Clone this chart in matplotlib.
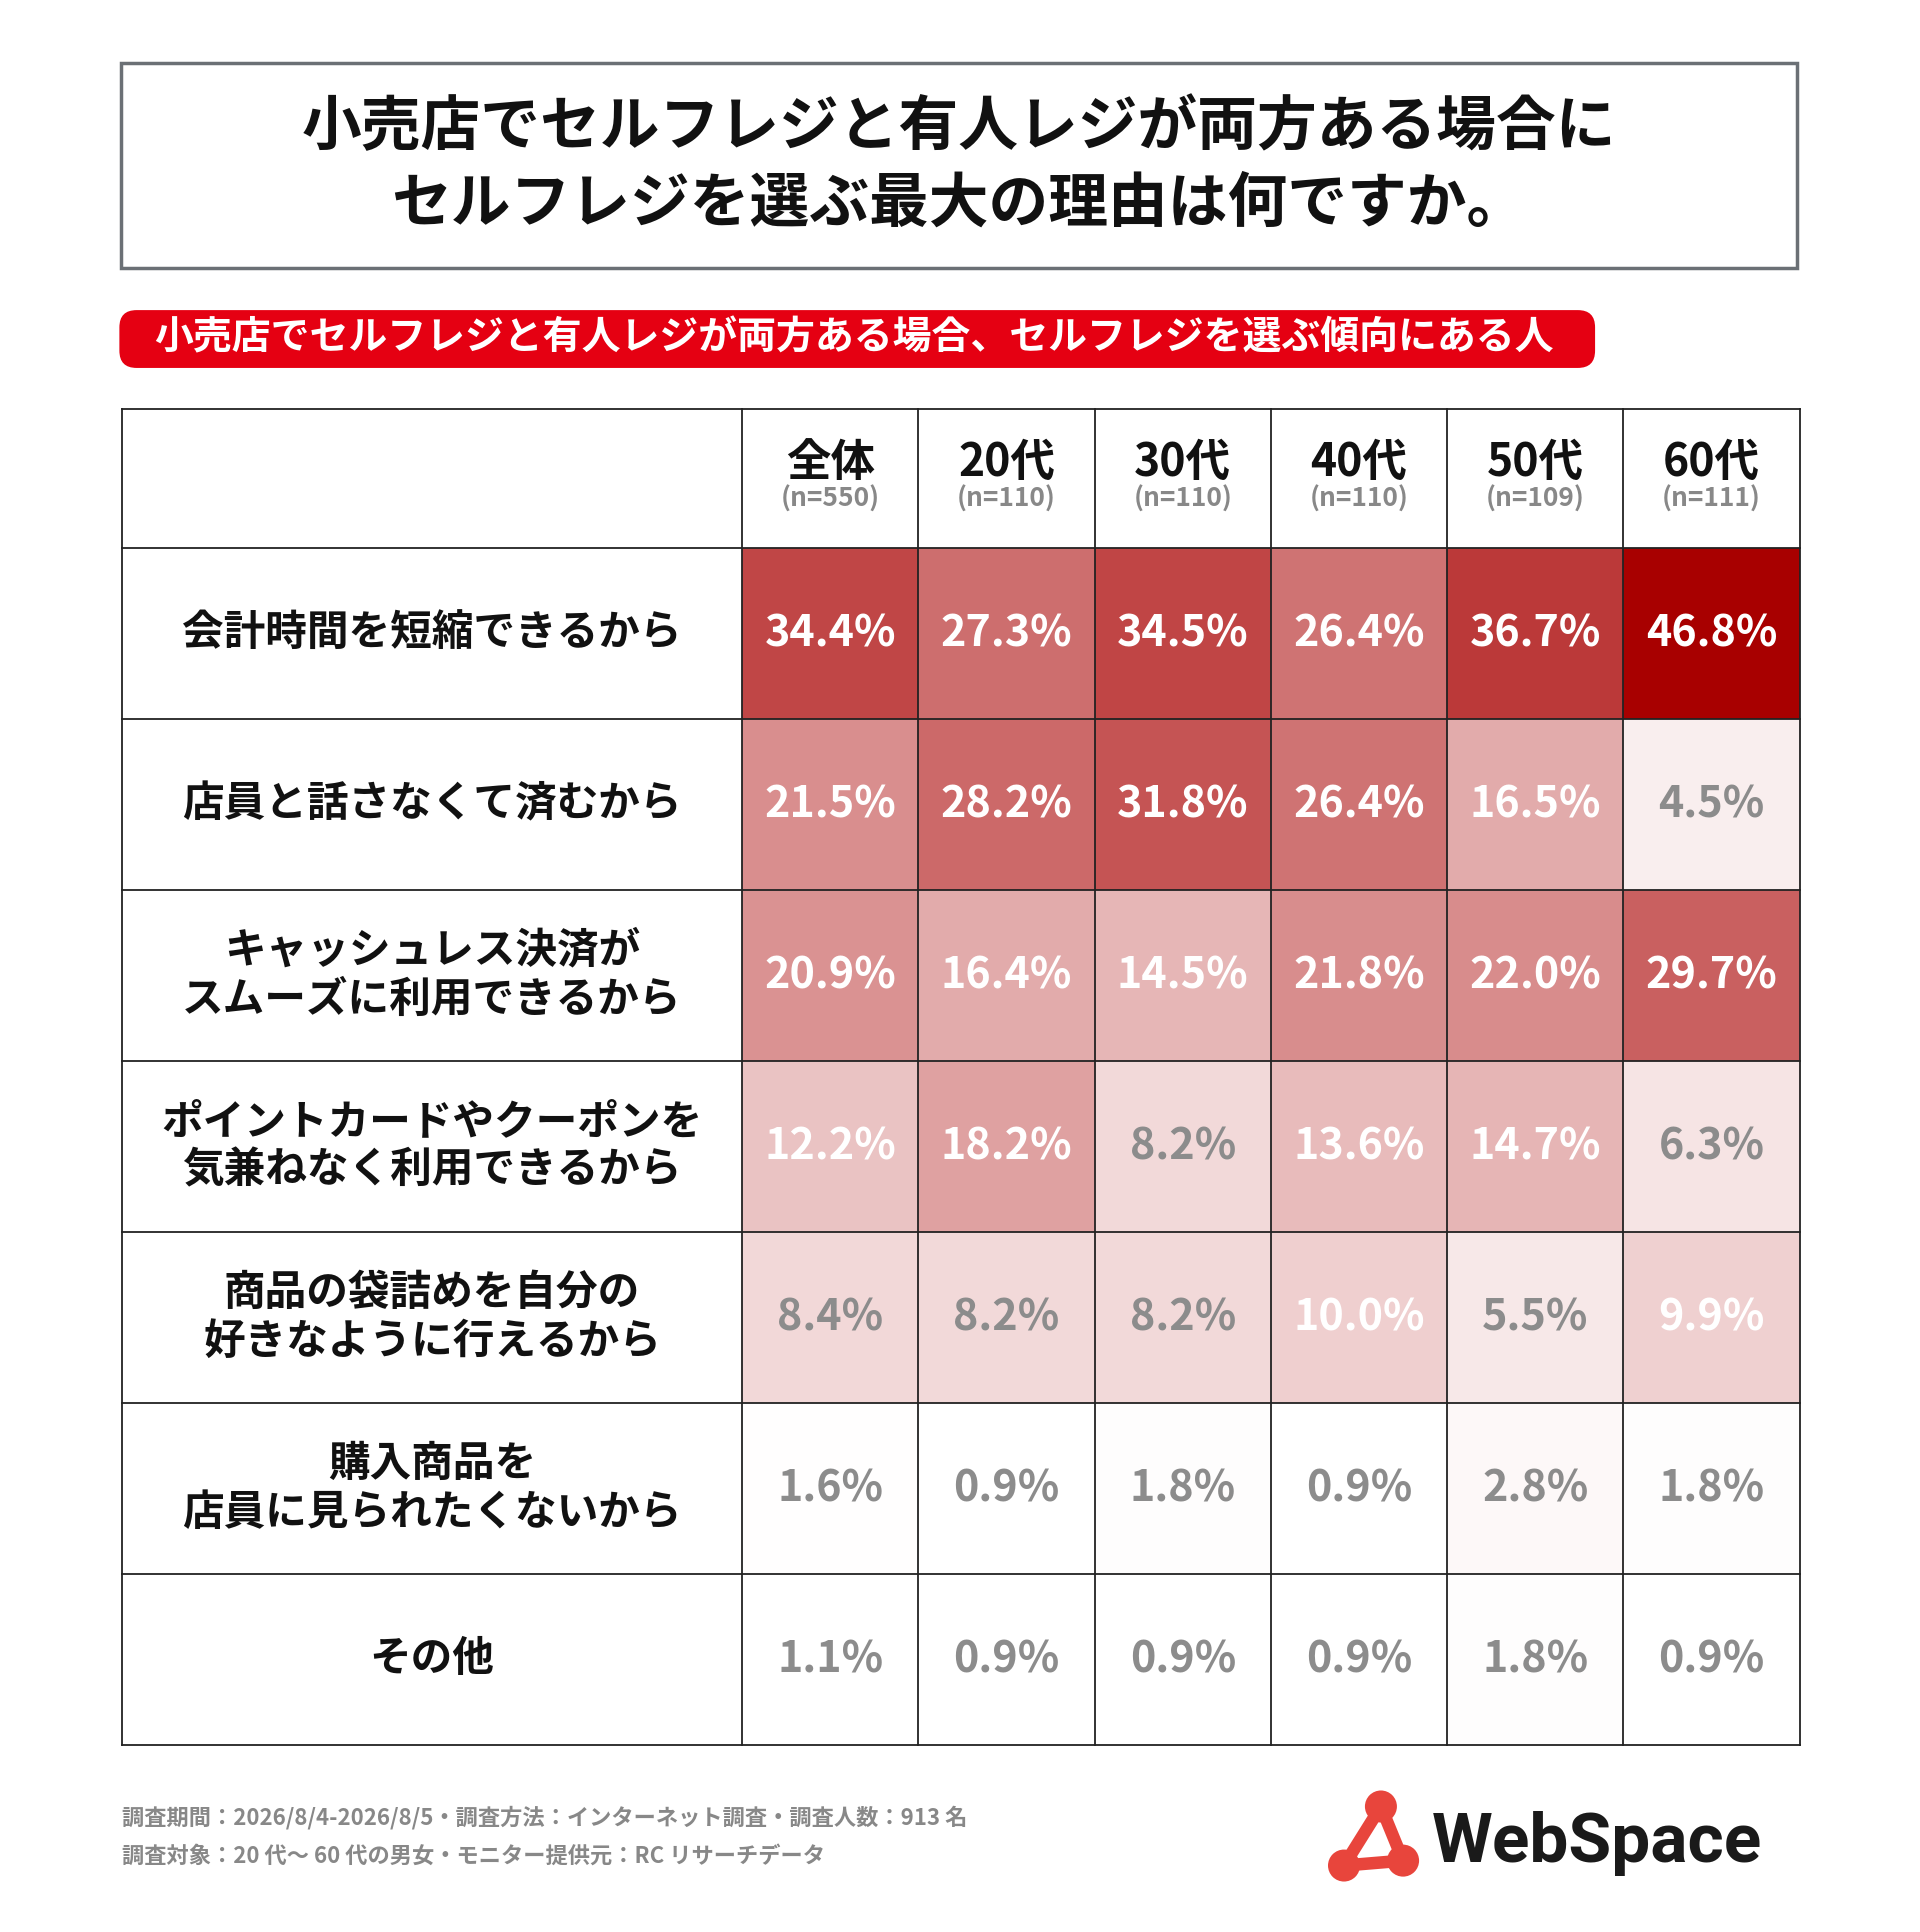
import matplotlib.pyplot as plt
from matplotlib.patches import Rectangle, FancyBboxPatch, Circle
import numpy as np

plt.rcParams['font.family'] = ['Noto Sans CJK JP', 'DejaVu Sans']

cols = ["全体", "20代", "30代", "40代", "50代", "60代"]
ns = ["(n=550)", "(n=110)", "(n=110)", "(n=110)", "(n=109)", "(n=111)"]
rows = ["会計時間を短縮できるから",
        "店員と話さなくて済むから",
        "キャッシュレス決済が\nスムーズに利用できるから",
        "ポイントカードやクーポンを\n気兼ねなく利用できるから",
        "商品の袋詰めを自分の\n好きなように行えるから",
        "購入商品を\n店員に見られたくないから",
        "その他"]
vals = np.array([
    [34.4, 27.3, 34.5, 26.4, 36.7, 46.8],
    [21.5, 28.2, 31.8, 26.4, 16.5, 4.5],
    [20.9, 16.4, 14.5, 21.8, 22.0, 29.7],
    [12.2, 18.2, 8.2, 13.6, 14.7, 6.3],
    [8.4, 8.2, 8.2, 10.0, 5.5, 9.9],
    [1.6, 0.9, 1.8, 0.9, 2.8, 1.8],
    [1.1, 0.9, 0.9, 0.9, 1.8, 0.9],
])

fig = plt.figure(figsize=(19.2, 19.32), dpi=100)
ax = fig.add_axes([0, 0, 1, 1])
ax.set_xlim(0, 1560)
ax.set_ylim(1570, 0)
ax.axis('off')

# title box
ax.add_patch(Rectangle((98, 51), 1362, 167, fill=False, ec='#6b7075', lw=2.5))
ax.text(779, 104, "小売店でセルフレジと有人レジが両方ある場合に", ha='center', va='center',
        fontsize=43, fontweight='bold', color='#111')
ax.text(779, 166, "セルフレジを選ぶ最大の理由は何ですか。", ha='center', va='center',
        fontsize=43, fontweight='bold', color='#111')

# red pill
ax.add_patch(FancyBboxPatch((97, 252), 1199, 47, boxstyle="round,pad=0,rounding_size=14",
                            fc='#e50012', ec='none'))
ax.text(694, 275, "小売店でセルフレジと有人レジが両方ある場合、セルフレジを選ぶ傾向にある人",
        ha='center', va='center', fontsize=28, fontweight='bold', color='white')

# table
x0, lw_col, cw = 99, 504, 143.2
y0, hh, rh = 332, 113, 139
red = np.array([168, 0, 0]) / 255
vmax = vals.max()
for i in range(len(rows)):
    y = y0 + hh + i * rh
    for j in range(len(cols)):
        a = max(vals[i, j] - 1.5, 0) / (vmax - 1.5)
        c = (1 - a) * np.ones(3) + a * red
        x = x0 + lw_col + j * cw
        ax.add_patch(Rectangle((x, y), cw, rh, fc=c, ec='none'))
        tc = 'white' if vals[i, j] >= 9.9 else '#8c8c8c'
        ax.text(x + cw / 2, y + rh / 2, f"{vals[i, j]:.1f}%", ha='center', va='center',
                fontsize=31, fontweight='bold', color=tc)
    ax.text(x0 + lw_col / 2, y + rh / 2, rows[i], ha='center', va='center',
            fontsize=30, fontweight='bold', color='#111', linespacing=1.2)

for j in range(len(cols)):
    x = x0 + lw_col + j * cw + cw / 2
    ax.text(x, 376, cols[j], ha='center', va='center', fontsize=32, fontweight='bold', color='#111')
    ax.text(x, 406, ns[j], ha='center', va='center', fontsize=19, fontweight='bold', color='#888')

# grid lines
ybot = y0 + hh + len(rows) * rh
xr = x0 + lw_col + len(cols) * cw
for yy in [y0, y0 + hh] + [y0 + hh + k * rh for k in range(1, len(rows) + 1)]:
    ax.plot([x0, xr], [yy, yy], color='#222', lw=1.3)
for xx in [x0, x0 + lw_col] + [x0 + lw_col + k * cw for k in range(1, len(cols) + 1)]:
    ax.plot([xx, xx], [y0, ybot], color='#222', lw=1.3)

# footer
ax.text(99, 1477, "調査期間：2026/8/4-2026/8/5・調査方法：インターネット調査・調査人数：913 名",
        ha='left', va='center', fontsize=16, fontweight='bold', color='#888')
ax.text(99, 1508, "調査対象：20 代～ 60 代の男女・モニター提供元：RC リサーチデータ",
        ha='left', va='center', fontsize=16, fontweight='bold', color='#888')

# logo
pts = [(1122, 1468), (1092, 1516), (1140, 1512)]
for (a1, b1), (a2, b2) in [(pts[0], pts[1]), (pts[0], pts[2]), (pts[1], pts[2])]:
    ax.plot([a1, a2], [b1, b2], color='#e8453c', lw=9, solid_capstyle='round')
for p in pts:
    ax.add_patch(Circle(p, 13, fc='#e8453c', ec='none'))
ax.text(1163, 1498, "WebSpace", ha='left', va='center', fontsize=50, fontweight='bold',
        color='#1a1a1a', family='Roboto', stretch='condensed')

fig.savefig("out.png", dpi=100)
